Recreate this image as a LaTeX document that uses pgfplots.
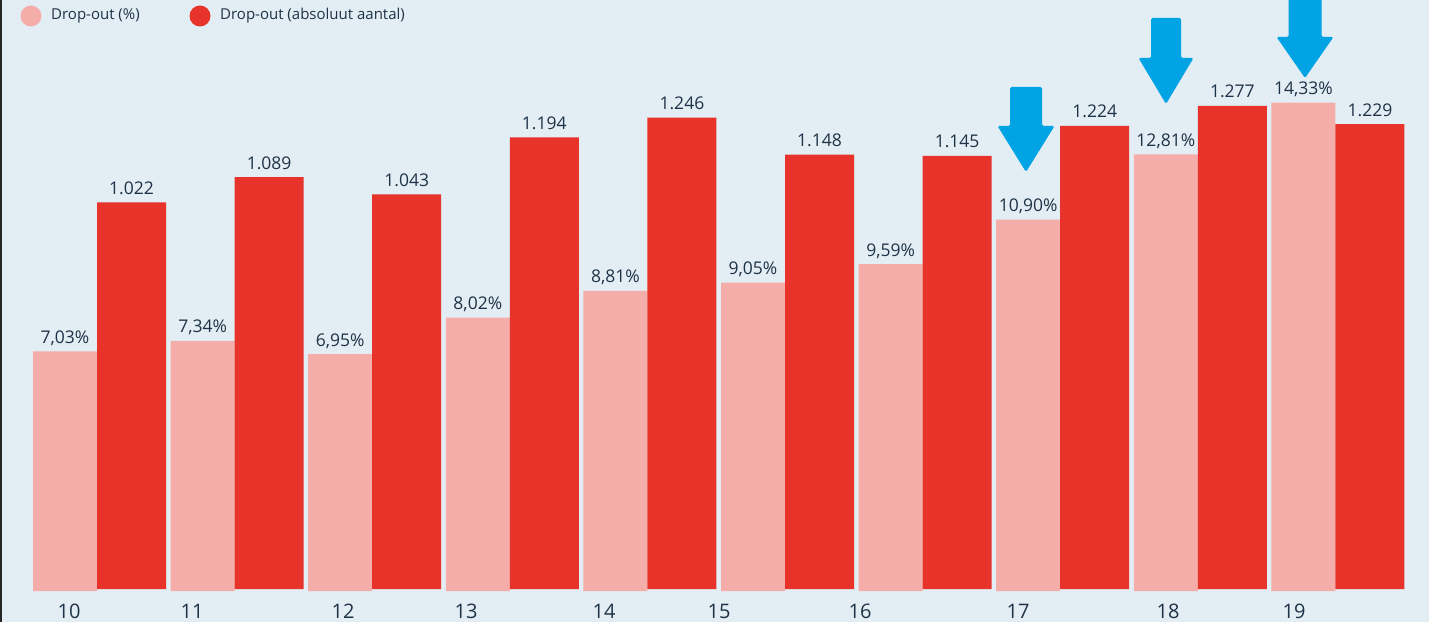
\documentclass[border=0pt]{standalone}
\usepackage{pgfplots}
\pgfplotsset{compat=1.18}
\usepackage{fontspec}
\setmainfont{Open Sans}
\definecolor{bg}{HTML}{E2EDF4}
\definecolor{pinkbar}{HTML}{F4ADA9}
\definecolor{redbar}{HTML}{E8332B}
\definecolor{txt}{HTML}{1E3347}
\definecolor{arrowblue}{HTML}{00A3E4}
\newcommand{\bluearrow}[6]{% x tip, py tip, py headstart, py top, shaft half, head half
  \fill[arrowblue, rounded corners=1.5pt] (#1-#5, 622-#4) -- (#1+#5, 622-#4) -- (#1+#5, 622-#3) -- (#1+#6, 622-#3) -- (#1, 622-#2) -- (#1-#6, 622-#3) -- (#1-#5, 622-#3) -- cycle;}
\begin{document}
\begin{tikzpicture}
\path[use as bounding box] (0pt,0pt) rectangle (1429pt,622pt);
\clip (0pt,0pt) rectangle (1429pt,622pt);
\fill[bg] (0pt,0pt) rectangle (1429pt,622pt);
\fill[black!85] (0pt,0pt) rectangle (2pt,622pt);
\pgfplotsset{
  /pgf/number format/assume math mode=true,
  commonaxis/.style={
    scale only axis, width=1429pt,
    xmin=-0.7231, xmax=9.6621, ymin=0,
    axis line style={draw=none}, major tick length=0pt,
    ytick=\empty, clip=false, ybar,
    point meta=y, nodes near coords,
    every node near coord/.append style={font=\fontsize{17.5}{20}\selectfont, text=txt, anchor=base, yshift=8pt, inner sep=0pt},
  }
}
\begin{axis}[commonaxis,
  at={(0pt,31pt)}, anchor=south west, height=591pt, ymax=17.342,
  bar width=64pt, bar shift=-34.5pt,
  xtick={-0.2217,0.6722,1.7696,2.6635,3.6664,4.5022,5.5269,6.6752,7.7653,8.6810},
  xticklabels={10,11,12,13,14,15,16,17,18,19},
  xticklabel style={font=\fontsize{20}{22}\selectfont, text=txt, anchor=base, yshift=-27pt, inner sep=0pt},
  nodes near coords={\pgfmathprintnumber[assume math mode=true, fixed, fixed zerofill, precision=2, use comma]{\pgfplotspointmeta}\%},
]
\addplot[fill=pinkbar, draw=none] coordinates {(0,7.03) (1,7.34) (2,6.95) (3,8.02) (4,8.81) (5,9.05) (6,9.59) (7,10.90) (8,12.81) (9,14.33)};
\end{axis}
\begin{axis}[commonaxis,
  at={(0pt,33pt)}, anchor=south west, height=589pt, ymax=1557,
  bar width=69pt, bar shift=32pt, xtick=\empty,
  nodes near coords={\pgfmathprintnumber[assume math mode=true, fixed, precision=0, 1000 sep={.}]{\pgfplotspointmeta}},
]
\addplot[fill=redbar, draw=none] coordinates {(0,1022) (1,1089) (2,1043) (3,1194) (4,1246) (5,1148) (6,1145) (7,1224) (8,1277) (9,1229)};
\end{axis}
\begin{scope}[x=1pt,y=1pt]
\fill[pinkbar] (31,606) circle (10.5);
\fill[redbar] (200,606) circle (10.5);
\node[anchor=base west, inner sep=0pt, font=\fontsize{15}{17}\selectfont, text=txt] at (51,602) {Drop-out (\%)};
\node[anchor=base west, inner sep=0pt, font=\fontsize{15}{17}\selectfont, text=txt] at (220,602) {Drop-out (absoluut aantal)};
\bluearrow{1026}{172}{126}{87}{16}{28.5}
\bluearrow{1166}{104}{58}{18}{15}{27.5}
\bluearrow{1305}{78}{37}{-5}{16.5}{28.5}
\end{scope}
\end{tikzpicture}
\end{document}
